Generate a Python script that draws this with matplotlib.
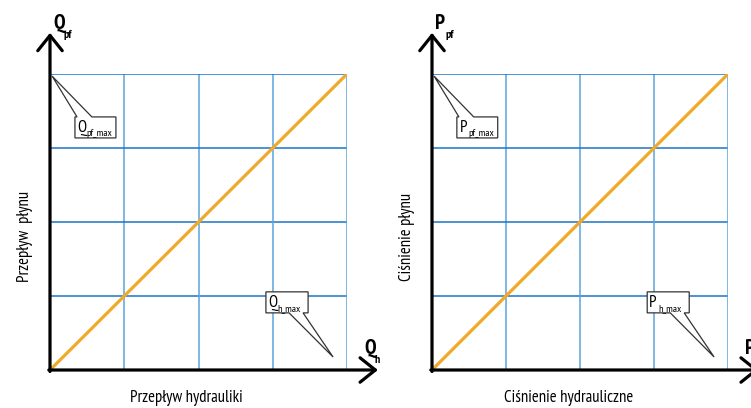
import matplotlib
matplotlib.use("Agg")
import matplotlib.pyplot as plt
from matplotlib.patches import Polygon

plt.rcParams['font.family'] = ['PT Sans Narrow', 'Roboto Condensed', 'Liberation Sans', 'DejaVu Sans']

# ---- data ----
grid_ticks = [0, 0.25, 0.5, 0.75, 1.0]
line_x = [0, 1.0]
line_y = [0, 1.0]

symbols = ['Q', 'P']
y_subs = ['pf', 'pf']
x_subs = ['h', 'h']
y_labels = ['Przepływ  płynu', 'Ciśnienie płynu']
x_labels = ['Przepływ hydrauliki', 'Ciśnienie hydrauliczne']
box_top_subs = ['pf_max', 'pf_max']
box_bot_subs = ['h_max', 'h_max']

W, H = 751, 408
fig = plt.figure(figsize=(W / 100, H / 100), dpi=100)

axes_px = [(50, 297), (432, 296)]  # left px, width px
ORANGE = '#f0a92a'
VBLUE = '#5aa6dc'
HBLUE = '#1c74c6'


def callout(ax, x0, x1, yb, yt, bx1, bx2, apex, top):
    if top:
        pts = [(x0, yb), (x1, yb), (x1, yt), (bx2, yt), apex, (bx1, yt), (x0, yt)]
    else:
        pts = [(x0, yt), (x1, yt), (x1, yb), (bx2, yb), apex, (bx1, yb), (x0, yb)]
    ax.add_patch(Polygon(pts, closed=True, facecolor='white', edgecolor='#333333',
                         lw=0.9, clip_on=False, zorder=5))


for i, (left, size) in enumerate(axes_px):
    sym = symbols[i]
    ax = fig.add_axes([left / W, 38 / H, size / W, 296 / H])
    ax.set_xlim(0, 1)
    ax.set_ylim(0, 1)
    ax.axis('off')
    for t in grid_ticks[1:]:
        ax.plot([t, t], [0, 1], color=VBLUE, lw=1.1, zorder=1)
        ax.plot([0, 1], [t, t], color=HBLUE, lw=1.1, zorder=1)
    ax.plot(line_x, line_y, color=ORANGE, lw=2.3, zorder=3, solid_capstyle='butt')

    # axes arrows
    ax.annotate('', xy=(1.104, 0), xytext=(-0.004, 0), annotation_clip=False,
                arrowprops=dict(arrowstyle='->,head_length=0.5,head_width=0.4', lw=2.3,
                                color='black', shrinkA=0, shrinkB=0, mutation_scale=22), zorder=6)
    ax.annotate('', xy=(0, 1.139), xytext=(0, -0.005), annotation_clip=False,
                arrowprops=dict(arrowstyle='->,head_length=0.5,head_width=0.4', lw=2.3,
                                color='black', shrinkA=0, shrinkB=0, mutation_scale=22), zorder=6)

    # axis symbols
    ax.text(0.01, 1.152, sym, fontsize=15, fontweight='bold', ha='left', va='baseline',
            clip_on=False)
    ax.text(0.047, 1.122, y_subs[i], fontsize=8.5, fontweight='bold', ha='left', va='baseline',
            clip_on=False)
    ax.text(1.057, 0.054, sym, fontsize=15, fontweight='bold', ha='left', va='baseline',
            clip_on=False)
    ax.text(1.094, 0.024, x_subs[i], fontsize=8.5, fontweight='bold', ha='left', va='baseline',
            clip_on=False)

    # axis titles
    ax.text(-0.085, 0.45, y_labels[i], rotation=90, fontsize=12, ha='center', va='center',
            clip_on=False)
    ax.text(0.46, -0.095, x_labels[i], fontsize=12, ha='center', va='center', clip_on=False)

    # callouts
    callout(ax, 0.084, 0.222, 0.784, 0.855, 0.091, 0.141, (0.007, 0.993), True)
    ax.text(0.093, 0.803, sym, fontsize=12, ha='left', va='baseline', zorder=6, clip_on=False)
    ax.text(0.124, 0.790, box_top_subs[i], fontsize=7.5, ha='left', va='baseline', zorder=6,
            clip_on=False)

    callout(ax, 0.727, 0.869, 0.193, 0.264, 0.805, 0.852, (0.953, 0.044), False)
    ax.text(0.734, 0.212, sym, fontsize=12, ha='left', va='baseline', zorder=6, clip_on=False)
    ax.text(0.765, 0.199, box_bot_subs[i], fontsize=7.5, ha='left', va='baseline', zorder=6,
            clip_on=False)

fig.savefig('out.png', dpi=100)
